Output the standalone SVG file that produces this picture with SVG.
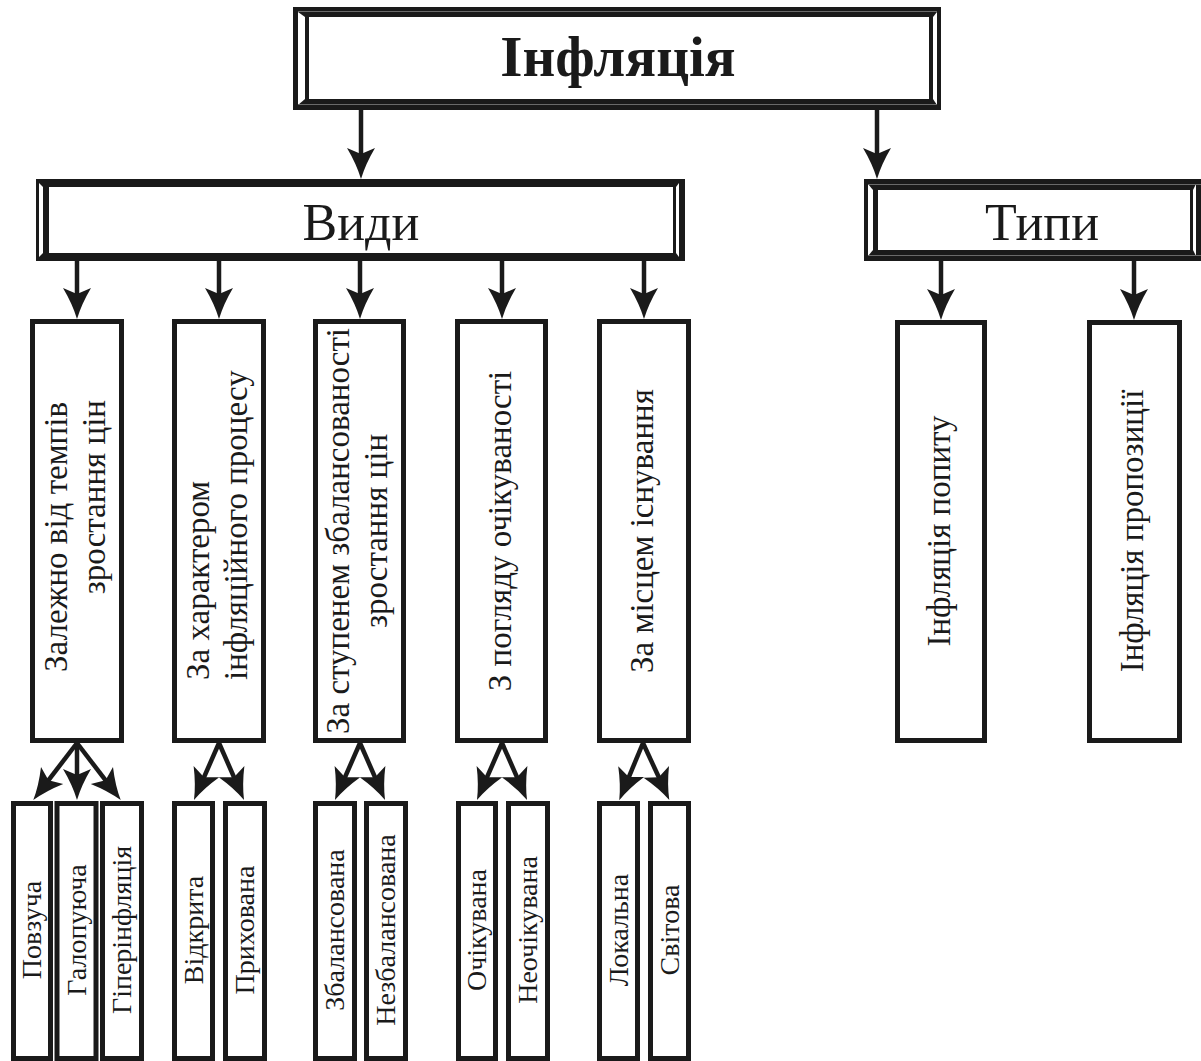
<svg xmlns="http://www.w3.org/2000/svg" width="1201" height="1061" viewBox="0 0 1201 1061">
  <style>
    .ink { fill: #1a1a1a; }
    .paper { fill: #ffffff; }
    .seam { stroke: #6a6a6a; stroke-width: 1; fill: none; }
    .box { fill: #ffffff; stroke: #1a1a1a; stroke-width: 5; }
    .wire { stroke: #1a1a1a; stroke-width: 4.5; fill: none; }
    .title { font-family: "Liberation Serif", "Times New Roman", serif; font-weight: bold; font-size: 57px; fill: #1a1a1a; text-anchor: middle; }
    .head { font-family: "Liberation Serif", "Times New Roman", serif; font-size: 52px; fill: #1a1a1a; text-anchor: middle; }
    .v2 { font-family: "Liberation Serif", "Times New Roman", serif; font-size: 33px; fill: #1a1a1a; text-anchor: middle; }
    .v3 { font-family: "Liberation Serif", "Times New Roman", serif; font-size: 28px; fill: #1a1a1a; text-anchor: middle; }
    .end { text-anchor: end; }
    .start { text-anchor: start; }
  </style>
  <defs>
    <marker id="ah" viewBox="-34 -16 36 32" refX="-15" refY="0" markerWidth="36" markerHeight="32" markerUnits="userSpaceOnUse" orient="auto" overflow="visible">
      <path class="ink" d="M0,0 Q-15,-4.5 -31,-14 L-25,0 L-31,14 Q-15,4.5 0,0 Z"/>
    </marker>
  </defs>

  <!-- root node with bevelled frame -->
  <g id="node-inflation">
    <rect class="ink" x="293" y="7" width="648" height="103"/>
    <rect class="paper" x="309" y="17" width="620" height="82"/>
    <polygon class="paper" points="298,12 305,17 305,99 298,105"/>
    <polygon class="paper" points="933,17 937,12 937,105 933,99"/>
    <line class="seam" x1="298" y1="11.5" x2="937" y2="11.5"/>
    <line class="seam" x1="298" y1="104.5" x2="937" y2="104.5"/>
    <text class="title" x="618" y="76">Інфляція</text>
  </g>

  <g id="node-vydy">
    <rect class="ink" x="36" y="179" width="649" height="82"/>
    <rect class="paper" x="49" y="187" width="624" height="66"/>
    <polygon class="paper" points="39,183 43,187 43,253 39,257"/>
    <polygon class="paper" points="676,187 679,183 679,257 676,253"/>
    <text class="head" x="361" y="240">Види</text>
  </g>

  <g id="node-typy">
    <rect class="ink" x="864" y="179" width="340" height="82"/>
    <rect class="paper" x="878" y="190" width="312" height="60"/>
    <polygon class="paper" points="868,184 873,190 873,250 868,256"/>
    <polygon class="paper" points="1193,190 1196,184 1196,256 1193,250"/>
    <line class="seam" x1="868" y1="184.5" x2="1201" y2="184.5"/>
    <line class="seam" x1="868" y1="255.5" x2="1201" y2="255.5"/>
    <text class="head" x="1042" y="240">Типи</text>
  </g>

  <!-- second level: classification criteria -->
  <g id="node-tempy">
    <rect class="box" x="32.5" y="321.5" width="89" height="419"/>
    <text class="v2 end" transform="translate(67,402) rotate(-90)">Залежно від темпів</text>
    <text class="v2 end" transform="translate(105,400) rotate(-90)">зростання цін</text>
  </g>
  <g id="node-kharakter">
    <rect class="box" x="174.5" y="321.5" width="89" height="419"/>
    <text class="v2 start" transform="translate(209,680) rotate(-90)">За характером</text>
    <text class="v2 start" transform="translate(247,680) rotate(-90)">інфляційного процесу</text>
  </g>
  <g id="node-balans">
    <rect class="box" x="315.5" y="321.5" width="88" height="419"/>
    <text class="v2" transform="translate(349,531) rotate(-90)">За ступенем збалансованості</text>
    <text class="v2" transform="translate(387,531) rotate(-90)">зростання цін</text>
  </g>
  <g id="node-ochikuvanist">
    <rect class="box" x="457.5" y="321.5" width="88" height="419"/>
    <text class="v2" transform="translate(511,531) rotate(-90)">З погляду очікуваності</text>
  </g>
  <g id="node-mistse">
    <rect class="box" x="599.5" y="321.5" width="89" height="419"/>
    <text class="v2" transform="translate(653,531) rotate(-90)">За місцем існування</text>
  </g>
  <g id="node-popyt">
    <rect class="box" x="897.5" y="322.5" width="87" height="418"/>
    <text class="v2" transform="translate(950,531) rotate(-90)">Інфляція попиту</text>
  </g>
  <g id="node-propozytsiia">
    <rect class="box" x="1089.5" y="322.5" width="90" height="418"/>
    <text class="v2" transform="translate(1143,531) rotate(-90)">Інфляція пропозиції</text>
  </g>

  <!-- third level: kinds -->
  <g id="node-povzucha">
    <rect class="box" x="13.5" y="803.5" width="37" height="255"/>
    <text class="v3" transform="translate(41,930) rotate(-90)">Повзуча</text>
  </g>
  <g id="node-halopuiucha">
    <rect class="box" x="57" y="803.5" width="39" height="255"/>
    <text class="v3" transform="translate(86,930) rotate(-90)">Галопуюча</text>
  </g>
  <g id="node-hiperinfliatsiia">
    <rect class="box" x="102.5" y="803.5" width="39" height="255"/>
    <text class="v3" transform="translate(131,930) rotate(-90)">Гіперінфляція</text>
  </g>
  <g id="node-vidkryta">
    <rect class="box" x="174.5" y="803.5" width="38" height="255"/>
    <text class="v3" transform="translate(203,930) rotate(-90)">Відкрита</text>
  </g>
  <g id="node-prykhovana">
    <rect class="box" x="225.5" y="803.5" width="39" height="255"/>
    <text class="v3" transform="translate(254,930) rotate(-90)">Прихована</text>
  </g>
  <g id="node-zbalansovana">
    <rect class="box" x="315.5" y="803.5" width="39" height="255"/>
    <text class="v3" transform="translate(344,930) rotate(-90)">Збалансована</text>
  </g>
  <g id="node-nezbalansovana">
    <rect class="box" x="366.5" y="803.5" width="39" height="255"/>
    <text class="v3" transform="translate(395,930) rotate(-90)">Незбалансована</text>
  </g>
  <g id="node-ochikuvana">
    <rect class="box" x="458.5" y="803.5" width="37" height="255"/>
    <text class="v3" transform="translate(486,930) rotate(-90)">Очікувана</text>
  </g>
  <g id="node-neochikuvana">
    <rect class="box" x="508.5" y="803.5" width="39" height="255"/>
    <text class="v3" transform="translate(537,930) rotate(-90)">Неочікувана</text>
  </g>
  <g id="node-lokalna">
    <rect class="box" x="599.5" y="803.5" width="38" height="255"/>
    <text class="v3" transform="translate(628,930) rotate(-90)">Локальна</text>
  </g>
  <g id="node-svitova">
    <rect class="box" x="650.5" y="803.5" width="38" height="255"/>
    <text class="v3" transform="translate(679,930) rotate(-90)">Світова</text>
  </g>

  <!-- connectors: each line stops 15px short of its tip; the marker draws the rest -->
  <g id="connectors" class="wire" marker-end="url(#ah)">
    <line x1="361" y1="110" x2="361" y2="164"/>
    <line x1="877" y1="110" x2="877" y2="164"/>

    <line x1="77" y1="261" x2="77" y2="304"/>
    <line x1="219" y1="261" x2="219" y2="304"/>
    <line x1="360" y1="261" x2="360" y2="304"/>
    <line x1="502" y1="261" x2="502" y2="304"/>
    <line x1="644" y1="261" x2="644" y2="304"/>
    <line x1="941" y1="261" x2="941" y2="305"/>
    <line x1="1134" y1="261" x2="1134" y2="305"/>

    <line x1="77" y1="743" x2="42.4" y2="788.2"/>
    <line x1="77" y1="743" x2="77" y2="785"/>
    <line x1="77" y1="743" x2="111.6" y2="788.2"/>

    <line x1="219" y1="743" x2="200" y2="786.3"/>
    <line x1="219" y1="743" x2="238" y2="786.3"/>

    <line x1="360" y1="743" x2="341" y2="786.3"/>
    <line x1="360" y1="743" x2="379" y2="786.3"/>

    <line x1="502" y1="743" x2="483" y2="786.3"/>
    <line x1="502" y1="743" x2="521" y2="786.3"/>

    <line x1="643" y1="743" x2="625" y2="786.3"/>
    <line x1="643" y1="743" x2="663" y2="786.3"/>
  </g>
</svg>
